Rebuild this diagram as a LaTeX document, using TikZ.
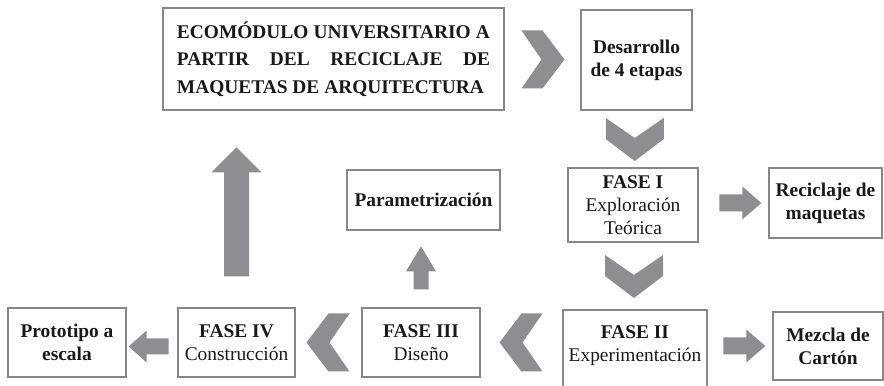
\documentclass[tikz,border=0pt]{standalone}
\usepackage{fontspec}
\setmainfont{Liberation Serif}
\usetikzlibrary{calc}

\definecolor{gris}{RGB}{142,142,146}
\definecolor{borde}{RGB}{135,135,135}
\definecolor{tinta}{RGB}{25,25,25}

\tikzset{
  caja/.style={draw=borde, line width=0.9pt, inner sep=0pt, align=center, text=tinta,
    font=\fontsize{13.8}{16.5}\selectfont},
  cajab/.style={caja, font=\bfseries\fontsize{13.8}{16.5}\selectfont},
  chevron/.pic={\fill[gris] (-21,-29) -- (0,-29) -- (22,0) -- (0,29) -- (-21,29) -- (-1,0) -- cycle;}
}

\begin{document}
\begin{tikzpicture}[x=0.025cm, y=-0.025cm]
  \useasboundingbox (0,0) rectangle (884,386);

  % Title and stages
  \node[caja, minimum width=8.525cm, minimum height=2.55cm, text width=7.825cm, align=justify,
    font=\bfseries\fontsize{13.8}{19.5}\selectfont] (titulo) at (333.5,59)
    {ECOMÓDULO UNIVERSITARIO A\linebreak PARTIR DEL RECICLAJE DE\linebreak MAQUETAS DE ARQUITECTURA};
  \node[cajab, minimum width=2.775cm, minimum height=2.5cm] (desarrollo) at (636.5,60) {Desarrollo\\de 4 etapas};
  \node[caja, minimum width=3.25cm, minimum height=1.85cm] (fase1) at (633,205) {\textbf{FASE I}\\Exploración\\Teórica};
  \node[caja, minimum width=3.6cm, minimum height=2.25cm] (fase2) at (635,355) {\textbf{FASE II}\\Experimentación\\\mbox{}};
  \node[caja, minimum width=2.95cm, minimum height=1.725cm] (fase3) at (421,342.5) {\textbf{FASE III}\\Diseño};
  \node[caja, minimum width=2.925cm, minimum height=1.725cm] (fase4) at (236.5,342.5) {\textbf{FASE IV}\\Construcción};

  % Results
  \node[cajab, minimum width=2.825cm, minimum height=1.75cm] (reciclaje) at (825.5,203) {Reciclaje de\\maquetas};
  \node[cajab, minimum width=2.75cm, minimum height=1.7cm] (mezcla) at (828,346) {Mezcla de\\Cartón};
  \node[cajab, minimum width=3.825cm, minimum height=1.5cm] (param) at (423.5,200) {Parametrización};
  \node[cajab, minimum width=2.95cm, minimum height=1.725cm] (prototipo) at (67,342.5) {Prototipo a\\escala};

  % Chevrons
  \pic at ($(titulo.east)!0.5!(desarrollo.west)$) {chevron};
  \pic[rotate=-90] at ($(desarrollo.south)!0.5!(fase1.north)$) {chevron};
  \pic[rotate=-90] at ($(fase1.south)!0.5!(fase2.north)$) {chevron};
  \pic[rotate=180] at ($(fase3.east)!0.5!(fase2.west |- fase3.east)$) {chevron};
  \pic[rotate=180] at ($(fase4.east)!0.5!(fase3.west)$) {chevron};

  % Block arrows
  \foreach \b in {reciclaje, mezcla} {
    \fill[gris] ($(\b.west)+(-49,-8.5)$) -- ++(23,0) -- ++(0,-8) -- ++(19,16.5) -- ++(-19,16.5) -- ++(0,-8) -- ++(-23,0) -- cycle;
  }
  \fill[gris] ($(prototipo.east)+(2,4)$) -- ++(18,-16) -- ++(0,8) -- ++(22,0) -- ++(0,16) -- ++(-22,0) -- ++(0,8) -- cycle;
  \fill[gris] ($(fase4.north)+(-12.5,-31)$) -- ++(0,-104) -- ++(-12.5,0) -- ++(25,-25) -- ++(25,25) -- ++(-12.5,0) -- ++(0,104) -- cycle;
  \fill[gris] ($(fase3.north)+(-7.5,-18)$) -- ++(0,-18) -- ++(-7.5,0) -- ++(15,-25) -- ++(15,25) -- ++(-7.5,0) -- ++(0,18) -- cycle;

\end{tikzpicture}
\end{document}
